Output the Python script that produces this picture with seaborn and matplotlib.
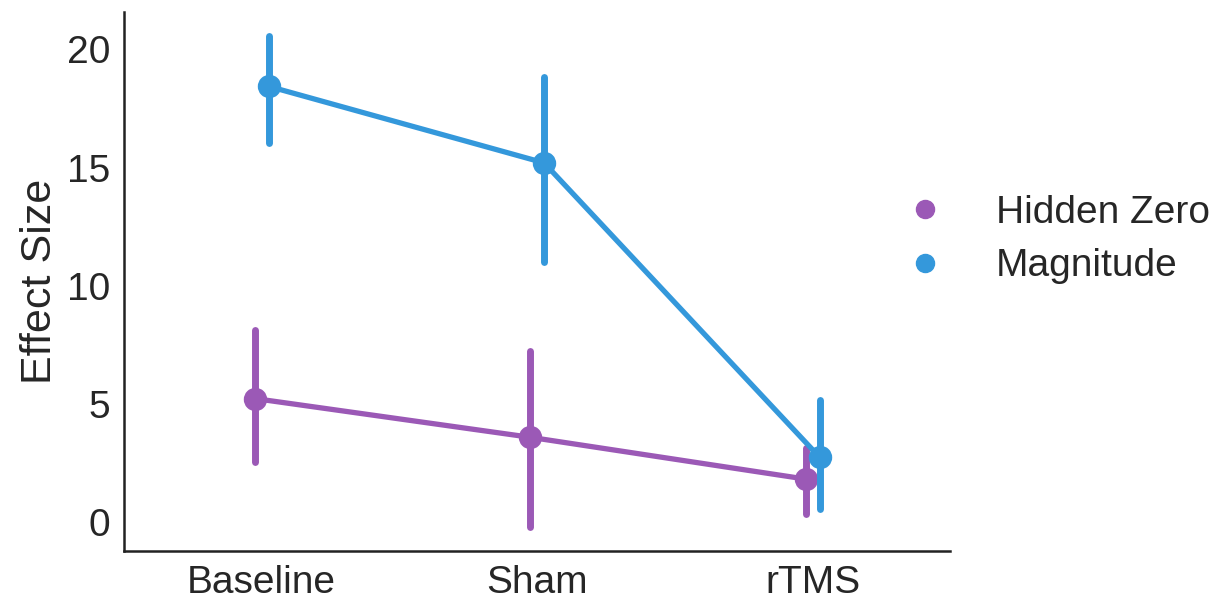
import numpy as np
import pandas as pd
import matplotlib
matplotlib.use("Agg")
import matplotlib.pyplot as plt
from matplotlib.lines import Line2D
import seaborn as sns

conditions = ["Baseline", "Sham", "rTMS"]
tasks = ["Hidden Zero", "Magnitude"]
# mean effect size per condition with interval bounds
hz_mean = [5.22, 3.58, 1.81]
hz_low = [2.53, -0.2, 0.34]
hz_high = [8.13, 7.24, 3.12]
mag_mean = [18.44, 15.2, 2.74]
mag_low = [16.04, 10.99, 0.55]
mag_high = [20.55, 18.82, 5.14]
colors = ["#9b59b6", "#3498db"]

rows = []
for task, lo, mu, hi in [("Hidden Zero", hz_low, hz_mean, hz_high),
                         ("Magnitude", mag_low, mag_mean, mag_high)]:
    for c, a, m, b in zip(conditions, lo, mu, hi):
        for v in (a, m, b):
            rows.append({"Condition": c, "Task": task, "Effect Size": v})
df = pd.DataFrame(rows)

sns.set_style("white")
plt.rcParams["font.family"] = ["Liberation Sans", "DejaVu Sans"]
plt.rcParams["text.color"] = "#262626"
plt.rcParams["xtick.color"] = "#262626"
plt.rcParams["ytick.color"] = "#262626"
plt.rcParams["axes.labelcolor"] = "#262626"

fig = plt.figure(figsize=(12.2, 5.99), dpi=100)
ax = fig.add_axes([0.1016, 0.08, 0.6774, 0.90])

sns.pointplot(data=df, x="Condition", y="Effect Size", hue="Task",
              order=conditions, hue_order=tasks, palette=colors,
              estimator="median", errorbar=("pi", 100), dodge=0.05,
              markersize=14, linewidth=3.8, err_kws={"linewidth": 5},
              ax=ax)

sns.despine(ax=ax)
for s in ["left", "bottom"]:
    ax.spines[s].set_linewidth(1.8)
    ax.spines[s].set_color("#222222")
ax.set_xlabel("")
ax.set_ylabel("Effect Size", fontsize=31, labelpad=5)
ax.set_yticks([0, 5, 10, 15, 20])
ax.tick_params(axis="both", labelsize=28, length=0, pad=10)
ax.set_xlim(-0.5, 2.5)

handles = [Line2D([], [], linestyle="none", marker="o", markersize=13,
                  color=c) for c in colors]
ax.get_legend().remove()
ax.legend(handles, tasks, loc="center left", bbox_to_anchor=(0.880, 0.578),
          frameon=False, fontsize=28, handletextpad=0.82, labelspacing=0.46)

fig.savefig("out.png", dpi=100)
